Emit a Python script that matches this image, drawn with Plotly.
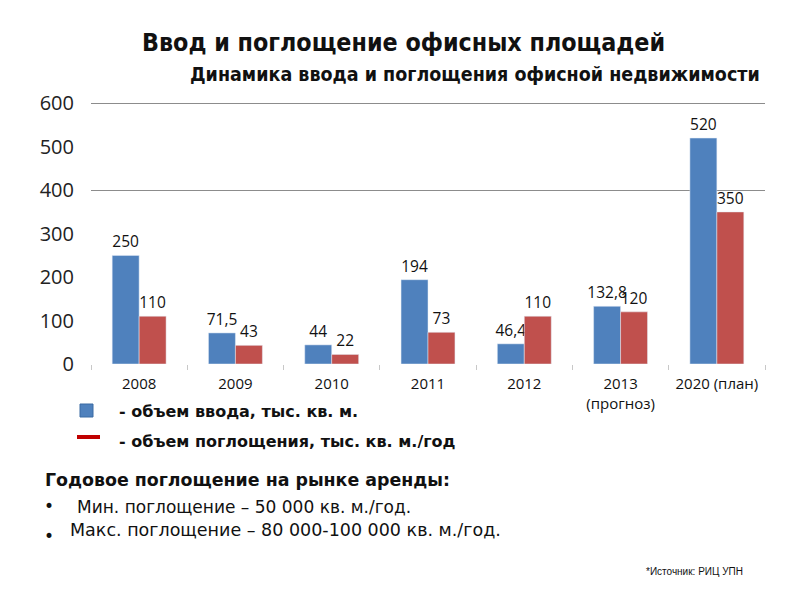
import plotly.graph_objects as go

categories = ["2008", "2009", "2010", "2011", "2012", "2013<br>(прогноз)", "2020 (план)"]
vvod = [250, 71.5, 44, 194, 46.4, 132.8, 520]
pogl = [110, 43, 22, 73, 110, 120, 350]
y_ticks = [0, 100, 200, 300, 400, 500, 600]
grid_vals = [400, 600]

BLUE = "#4F81BD"
RED = "#C0504D"

# page body has an 8px margin; lay out in reference pixels, shifted by OFF
OFF = 8
W, H = 784, 584
X0, X1, Y0, Y1 = 91, 765, 102, 364          # plot area in reference pixels
L, R, T, B = X0 - OFF, W - (X1 - OFF), Y0 - OFF, H - (Y1 - OFF)
PW, PH = X1 - X0, Y1 - Y0
YMAX = 603


def px(x):
    return (x - X0) / PW


def py(y):
    return (Y1 - y) / PH


def fmt(v):
    return f"{v:g}".replace(".", ",")


fig = go.Figure()
fig.add_trace(go.Bar(
    x=categories, y=vvod, marker_color=BLUE, name="ввод",
    text=[fmt(v) for v in vvod], textposition="outside",
    textfont=dict(family="Open Sans", size=15.5, color="#111"),
    cliponaxis=False, constraintext="none",
))
fig.add_trace(go.Bar(
    x=categories, y=pogl, marker_color=RED, name="поглощение",
    text=[fmt(v) for v in pogl], textposition="outside",
    textfont=dict(family="Open Sans", size=15.5, color="#111"),
    cliponaxis=False, constraintext="none",
))
fig.add_trace(go.Scatter(x=[categories[0]], y=[None], yaxis="y2",
                         showlegend=False, hoverinfo="skip"))

fig.update_layout(
    width=W, height=H,
    margin=dict(l=L, r=R, t=T, b=B),
    paper_bgcolor="white", plot_bgcolor="white",
    barmode="group", bargap=0.44, bargroupgap=0,
    showlegend=False,
    xaxis=dict(
        showline=False, showgrid=False, ticks="outside", tickson="boundaries",
        ticklen=5, tickcolor="#c8c8c8", ticklabelstandoff=9,
        tickfont=dict(family="Open Sans", size=15, color="#111"),
    ),
    yaxis=dict(
        range=[0, YMAX], tickvals=y_ticks, showgrid=False, zeroline=False,
        showline=False, ticklabelstandoff=16,
        tickfont=dict(family="Open Sans", size=20, color="#222"),
    ),
    yaxis2=dict(
        range=[0, YMAX], overlaying="y", tickvals=grid_vals, showgrid=True,
        gridcolor="#8c8c8c", gridwidth=1, showticklabels=False, zeroline=False,
    ),
)

annotations = [
    dict(text="<b>Ввод и поглощение офисных площадей</b>", x=px(403), y=py(42),
         font=dict(family="DejaVu Sans Condensed", size=24.8, color="#111")),
    dict(text="<b>Динамика ввода и поглощения офисной недвижимости</b>", x=px(762), y=py(74),
         xanchor="right", font=dict(family="DejaVu Sans Condensed", size=19.5, color="#111")),
    dict(text="<b>- объем ввода, тыс. кв. м.</b>", x=px(117), y=py(411), xanchor="left",
         font=dict(family="DejaVu Sans", size=16, color="#111")),
    dict(text="<b>- объем поглощения, тыс. кв. м./год</b>", x=px(117), y=py(441), xanchor="left",
         font=dict(family="DejaVu Sans", size=16, color="#111")),
    dict(text="<b>Годовое поглощение на рынке аренды:</b>", x=px(43), y=py(480), xanchor="left",
         font=dict(family="DejaVu Sans", size=17.4, color="#111")),
    dict(text="•", x=px(42), y=py(506), xanchor="left",
         font=dict(family="DejaVu Sans", size=17, color="#111")),
    dict(text="Мин. поглощение – 50 000 кв. м./год.", x=px(75), y=py(507), xanchor="left",
         font=dict(family="DejaVu Sans", size=17, color="#111")),
    dict(text="•", x=px(42), y=py(536), xanchor="left",
         font=dict(family="DejaVu Sans", size=17, color="#111")),
    dict(text="Макс. поглощение – 80 000-100 000 кв. м./год.", x=px(68), y=py(530), xanchor="left",
         font=dict(family="DejaVu Sans", size=17.5, color="#111")),
    dict(text="*Источник: РИЦ УПН", x=px(745), y=py(571), xanchor="right",
         font=dict(family="Liberation Sans", size=10, color="#111")),
]
for a in annotations:
    a.update(xref="paper", yref="paper", showarrow=False)
    a.setdefault("xanchor", "center")
    a.setdefault("yanchor", "middle")
fig.update_layout(annotations=annotations)

fig.add_shape(type="rect", xref="paper", yref="paper",
              x0=px(80), x1=px(93), y0=py(404), y1=py(417),
              fillcolor=BLUE, line=dict(color="#3a6aa3", width=1))
fig.add_shape(type="line", xref="paper", yref="paper",
              x0=px(77), x1=px(100), y0=py(437), y1=py(437),
              line=dict(color="#C00000", width=4))

fig.write_html("out.html")
